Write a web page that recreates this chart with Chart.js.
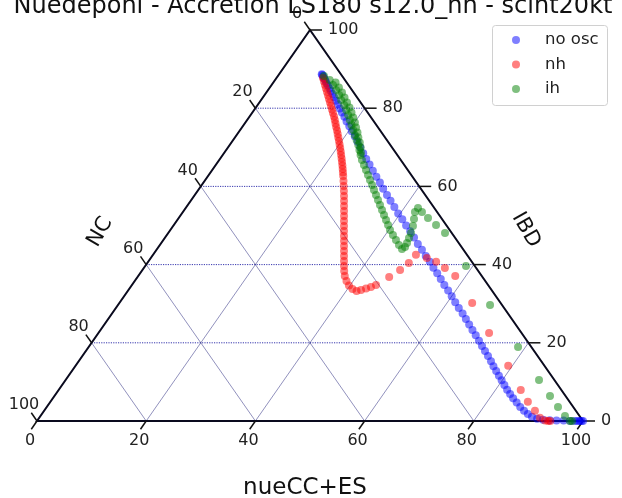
<!DOCTYPE html>
<html>
<head>
<meta charset="utf-8">
<script src="https://cdn.jsdelivr.net/npm/chart.js@4.4.1/dist/chart.umd.min.js"></script>
<style>
  html, body { margin: 0; padding: 0; background: #fff; }
  canvas { display: block; }
</style>
</head>
<body>
<canvas id="ternary" width="622" height="498"></canvas>
<script>
const chartTitle = 'Nuedeponi - Accretion LS180 s12.0_nh - scint20kt';
const axisNames = { bottom: 'nueCC+ES', right: 'IBD', left: 'NC' };
const tickValues = [0, 20, 40, 60, 80, 100];
const gridValues = [20, 40, 60, 80];
const seriesNames = ['no osc', 'nh', 'ih'];
const seriesColors = ['rgba(0,0,255,0.5)', 'rgba(255,0,0,0.5)', 'rgba(0,128,0,0.5)'];

// percentages per channel; NC = 100 - ES - IBD
const noOscES = [7.8,8.0,8.3,8.6,9.0,9.4,9.9,10.4,11.0,11.6,12.3,13.0,13.8,14.6,15.5,16.4,17.4,18.4,19.5,20.6,21.8,
  23.0,24.2,25.5,26.8,28.1,29.5,30.9,32.3,33.7,35.2,36.6,38.1,39.6,41.1,42.6,44.1,45.6,47.1,48.6,50.1,
  51.6,53.0,54.4,55.8,57.2,58.6,60.0,61.4,62.8,64.2,65.5,66.8,68.1,69.4,70.7,71.9,73.1,74.3,75.5,76.6,
  77.7,78.8,79.9,81.0,82.1,83.2,84.3,85.5,86.7,87.9,89.0,90.1,91.3,92.5,93.8,95.1,96.4,97.7,98.5,99.0,99.4,99.7,100.0];
const noOscIBD = [88.7,88.5,88.2,87.8,87.4,86.9,86.3,85.8,85.1,84.4,83.6,82.8,81.9,81.0,79.9,78.9,77.8,76.6,75.4,74.1,72.8,
  71.4,70.0,68.5,67.0,65.6,64.0,62.5,61.0,59.4,57.8,56.3,54.7,53.1,51.6,50.0,48.5,46.9,45.3,43.8,42.2,
  40.7,39.2,37.8,36.3,34.8,33.4,31.9,30.4,28.9,27.5,26.1,24.7,23.3,21.9,20.5,19.2,17.9,16.6,15.3,14.0,
  12.8,11.6,10.4,9.2,8.0,6.9,5.8,4.7,3.6,2.6,1.8,1.1,0.6,0.3,0.2,0.1,0.1,0.0,0.0,0.0,0.0,0.0,0.0];

const nhES = [8.52,9.15,9.78,10.41,11.04,11.68,12.30,12.93,13.57,14.20,14.82,15.46,16.05,16.63,17.20,17.80,18.37,18.93,19.50,20.06,
  20.62,21.16,21.69,22.22,22.74,23.26,23.76,24.26,24.75,25.45,26.12,26.80,27.46,28.10,28.74,29.38,30.02,30.65,31.29,31.93,
  32.57,33.21,33.85,34.49,35.13,35.77,36.41,37.08,37.83,38.78,39.81,40.90,41.90,42.59,43.32,44.03,44.70,46.1,47.2,47.9,
  48.15,50.55,52.75,55.15,58.05,64.6,71.55,79.25,84.65,87.45,89.9,91.7,93.0,93.6,94.0];
const nhIBD = [87.72,86.83,85.93,85.04,84.14,83.25,82.35,81.46,80.56,79.67,78.77,77.88,76.98,76.09,75.19,74.30,73.40,72.51,71.61,70.72,
  69.82,68.93,68.03,67.14,66.24,65.35,64.45,63.55,62.66,61.38,60.10,58.82,57.54,56.27,54.99,53.71,52.43,51.15,49.87,48.59,
  47.31,46.04,44.76,43.48,42.20,40.92,39.64,38.36,37.08,35.81,34.65,33.76,33.25,33.50,33.89,34.27,34.78,36.8,38.6,40.4,
  42.5,41.7,40.7,39.1,37.1,30.2,22.5,14.1,7.9,4.9,2.6,0.8,0.1,0.0,0.0];

const ihES = [8.44,10.0,11.4,11.25,12.65,12.45,13.85,13.65,14.95,14.65,16.05,15.85,17.15,16.85,18.15,17.85,19.1,18.8,20.05,19.75,
  20.9,20.7,21.8,21.65,22.6,22.6,23.5,23.55,24.3,24.4,25.0,25.25,26.14,27.15,28.16,
  29.16,30.17,31.18,32.18,33.19,34.19,35.20,36.21,37.21,38.22,39.23,40.23,41.41,42.60,43.79,44.85,45.15,45.01,44.73,44.46,
  43.92,43.22,42.50,42.54,43.78,45.65,48.02,50.69,58.75,68.14,78.64,86.70,90.76,93.63,96.06,97.6,98.0];
const ihIBD = [88.24,87.21,86.57,85.93,85.29,84.65,84.02,83.38,82.74,82.10,81.46,80.82,80.18,79.54,78.90,78.26,77.62,76.98,76.34,75.70,
  75.06,74.42,73.79,73.15,72.51,71.87,71.23,70.59,69.95,69.31,68.67,68.03,66.75,65.47,64.19,
  62.92,61.64,60.36,59.08,57.80,56.52,55.24,53.96,52.69,51.41,50.13,48.85,47.57,46.29,45.01,43.99,44.50,45.52,46.80,48.08,
  49.87,51.66,53.45,54.48,53.45,51.92,50.13,48.08,39.64,29.67,18.93,10.49,6.39,3.58,1.28,0.0,0.0];

const H = Math.sqrt(3) / 2;

// ternary (ES, IBD) -> cartesian inside a triangle of side 100
function toXY(es, ibd) {
  return es.map((a, i) => ({ x: a + ibd[i] / 2, y: ibd[i] * H }));
}

const FONT = '"DejaVu Sans", "Liberation Sans", sans-serif';

const ternaryFrame = {
  id: 'ternaryFrame',
  beforeDatasetsDraw(chart) {
    const { ctx } = chart;
    const sx = chart.scales.x, sy = chart.scales.y;
    const P = (es, ibd) => [sx.getPixelForValue(es + ibd / 2), sy.getPixelForValue(ibd * H)];
    const seg = (p, q) => { ctx.beginPath(); ctx.moveTo(p[0], p[1]); ctx.lineTo(q[0], q[1]); ctx.stroke(); };

    ctx.save();
    gridValues.forEach(v => {
      ctx.setLineDash([1.2, 1.2]);
      ctx.strokeStyle = 'rgba(20,20,160,0.95)';
      ctx.lineWidth = 0.9;
      seg(P(0, v), P(100 - v, v));
      ctx.setLineDash([]);
      ctx.strokeStyle = 'rgba(30,30,120,0.7)';
      ctx.lineWidth = 0.7;
      seg(P(v, 0), P(v, 100 - v));
      seg(P(100 - v, 0), P(0, 100 - v));
    });

    const A = P(0, 0), B = P(100, 0), C = P(0, 100);
    ctx.strokeStyle = '#0a0a1e';
    ctx.lineWidth = 2;
    ctx.beginPath();
    ctx.moveTo(A[0], A[1]); ctx.lineTo(B[0], B[1]); ctx.lineTo(C[0], C[1]); ctx.closePath();
    ctx.stroke();

    // ticks and tick labels
    ctx.lineWidth = 1.5;
    ctx.strokeStyle = '#111';
    ctx.fillStyle = '#222';
    ctx.font = '16px ' + FONT;
    ctx.textBaseline = 'middle';
    const ux = -0.572, uy = 0.82;
    tickValues.forEach(v => {
      let p = P(v, 0);
      seg(p, [p[0] + ux * 10, p[1] + uy * 10]);
      ctx.textAlign = 'center';
      ctx.fillText(String(v), p[0] - 7, p[1] + 20);

      p = P(100 - v, v);
      seg(p, [p[0] + 12, p[1]]);
      ctx.textAlign = 'left';
      ctx.fillText(String(v), p[0] + 18, p[1]);

      p = P(0, 100 - v);
      seg(p, [p[0] + ux * 10, p[1] - uy * 10]);
      ctx.textAlign = 'center';
      ctx.fillText(String(v), p[0] - 13, p[1] - 16);
    });

    // axis names
    ctx.fillStyle = '#111';
    ctx.textAlign = 'center';
    ctx.font = '23px ' + FONT;
    ctx.fillText(axisNames.bottom, 305, 488);
    ctx.font = '21px ' + FONT;
    ctx.save();
    ctx.translate(100, 232);
    ctx.rotate(-Math.PI / 3);
    ctx.fillText(axisNames.left, 0, 0);
    ctx.restore();
    ctx.save();
    ctx.translate(526, 230);
    ctx.rotate(Math.PI / 3);
    ctx.fillText(axisNames.right, 0, 0);
    ctx.restore();
    ctx.restore();
  },
  afterDraw(chart) {
    const { ctx } = chart;
    ctx.save();
    ctx.fillStyle = '#111';
    ctx.font = '24px ' + FONT;
    ctx.textAlign = 'center';
    ctx.textBaseline = 'alphabetic';
    ctx.fillText(chartTitle, 313, 12.5);

    // legend box
    ctx.beginPath();
    ctx.roundRect(492.5, 25.5, 115, 80, 3);
    ctx.fillStyle = 'rgba(255,255,255,0.8)';
    ctx.fill();
    ctx.strokeStyle = '#d0d0d0';
    ctx.lineWidth = 1;
    ctx.stroke();
    ctx.font = '16.5px ' + FONT;
    ctx.textAlign = 'left';
    ctx.textBaseline = 'middle';
    seriesNames.forEach((name, i) => {
      const yy = 40 + i * 24.5;
      ctx.beginPath();
      ctx.arc(516, yy, 4, 0, Math.PI * 2);
      ctx.fillStyle = seriesColors[i];
      ctx.fill();
      ctx.fillStyle = '#222';
      ctx.fillText(name, 545, yy);
    });
    ctx.restore();
  }
};

const series = [[noOscES, noOscIBD], [nhES, nhIBD], [ihES, ihIBD]];

new Chart(document.getElementById('ternary'), {
  type: 'scatter',
  data: {
    datasets: series.map((s, i) => ({
      label: seriesNames[i],
      data: toXY(s[0], s[1]),
      backgroundColor: seriesColors[i],
      borderWidth: 0,
      pointRadius: 4,
      pointHoverRadius: 4,
      clip: false,
      order: 2 - i
    }))
  },
  options: {
    responsive: false,
    animation: false,
    devicePixelRatio: 1,
    layout: { padding: { left: 37, right: 39, top: 30, bottom: 77 } },
    scales: {
      x: { type: 'linear', min: 0, max: 100, display: false },
      y: { type: 'linear', min: 0, max: 100 * H, display: false }
    },
    plugins: {
      legend: { display: false },
      tooltip: { enabled: false },
      title: { display: false }
    }
  },
  plugins: [ternaryFrame]
});
</script>
</body>
</html>
